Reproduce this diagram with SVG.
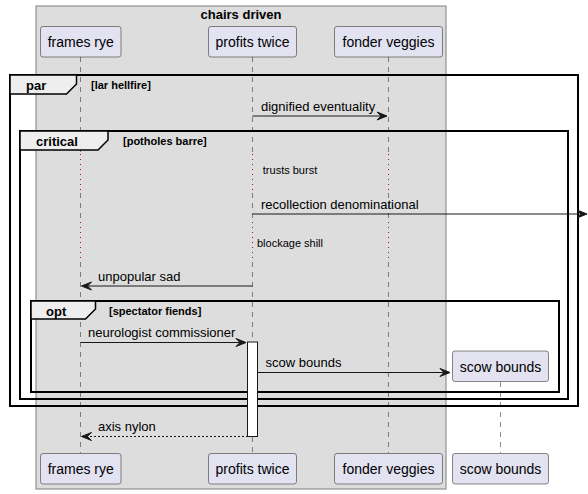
<svg xmlns="http://www.w3.org/2000/svg" width="588" height="494" viewBox="0 0 588 494">
<defs>
<style>
text{font-family:"Liberation Sans",Arial,sans-serif;fill:#000}
.pt{font-size:14px;text-anchor:middle}
.msg{font-size:13px}
.dl{font-size:11px;text-anchor:middle}
.fl{font-size:13px;font-weight:bold}
.fc{font-size:11px;font-weight:bold}
.part{fill:#E2E2F0;stroke:#181818;stroke-width:0.5}
.life{stroke:#181818;stroke-width:0.5;stroke-dasharray:5,5;fill:none}
.dot{stroke:#C00040;stroke-width:1;stroke-dasharray:1,4;fill:none}
.frame{fill:none;stroke:#000;stroke-width:2}
.tab{fill:#EEEEEE;stroke:#000;stroke-width:1.5}
.ln{stroke:#181818;stroke-width:1;fill:none}
.dash{stroke:#181818;stroke-width:1;stroke-dasharray:2,2;fill:none}
.ah{fill:#181818;stroke:#181818;stroke-width:1}
</style>
</defs>
<rect width="588" height="494" fill="#FFFFFF"/>
<g id="box-chairs-driven">
<rect x="36" y="6" width="410" height="483" fill="#DDDDDD" stroke="#7F7F7F" stroke-width="1"/>
<text x="241" y="19" class="fl" text-anchor="middle">chairs driven</text>
</g>
<g id="lifelines">
<path class="life" d="M80.5,57V153M80.5,193V221M80.5,262V453"/>
<path class="life" d="M252.5,57V153M252.5,193V221M252.5,262V342"/>
<path class="life" d="M252.5,437V453"/>
<path class="life" d="M388.5,57V153M388.5,193V221M388.5,262V453"/>
<path class="life" d="M500.5,382V453"/>
<path class="dot" d="M80.5,154V193M80.5,222V262M252.5,154V193M252.5,222V262M388.5,154V193M388.5,222V262"/>
</g>
<g id="frame-par">
<rect class="frame" x="10" y="75" width="568" height="331"/>
<polygon class="tab" points="10,75 76.5,75 76.5,84 66.5,94 10,94"/>
<text x="26" y="90" class="fl">par</text>
<text x="91" y="89" class="fc">[lar hellfire]</text>
</g>
<g id="frame-critical">
<rect class="frame" x="20" y="131" width="548" height="268"/>
<polygon class="tab" points="20,131 108,131 108,140 98,150 20,150"/>
<text x="36" y="146" class="fl">critical</text>
<text x="123" y="145" class="fc">[potholes barre]</text>
</g>
<g id="frame-opt">
<rect class="frame" x="31" y="301" width="528" height="91"/>
<polygon class="tab" points="31,301 95.5,301 95.5,309 85.5,319 31,319"/>
<text x="46" y="316" class="fl">opt</text>
<text x="109" y="315" class="fc">[spectator fiends]</text>
</g>
<g id="delays">
<text x="290" y="174" class="dl">trusts burst</text>
<text x="290" y="247" class="dl">blockage shill</text>
</g>
<g id="p-frames-rye">
<rect class="part" x="40.5" y="26.5" width="80.5" height="30.5" rx="2.5"/>
<text x="80.75" y="47" class="pt">frames rye</text>
<rect class="part" x="40.5" y="453.5" width="80.5" height="30.5" rx="2.5"/>
<text x="80.75" y="474" class="pt">frames rye</text>
</g>
<g id="p-profits-twice">
<rect class="part" x="208.5" y="26.5" width="88" height="30.5" rx="2.5"/>
<text x="252.5" y="47" class="pt">profits twice</text>
<rect class="part" x="208.5" y="453.5" width="88" height="30.5" rx="2.5"/>
<text x="252.5" y="474" class="pt">profits twice</text>
</g>
<g id="p-fonder-veggies">
<rect class="part" x="334.5" y="26.5" width="108" height="30.5" rx="2.5"/>
<text x="388.5" y="47" class="pt">fonder veggies</text>
<rect class="part" x="334.5" y="453.5" width="108" height="30.5" rx="2.5"/>
<text x="388.5" y="474" class="pt">fonder veggies</text>
</g>
<g id="p-scow-bounds">
<rect class="part" x="452.5" y="351" width="96" height="30.5" rx="2.5"/>
<text x="500.5" y="371.5" class="pt">scow bounds</text>
<rect class="part" x="452.5" y="453.5" width="96" height="30.5" rx="2.5"/>
<text x="500.5" y="474" class="pt">scow bounds</text>
</g>
<g id="activation">
<rect x="247.5" y="342" width="10" height="94.5" fill="#FFFFFF" stroke="#181818" stroke-width="1"/>
</g>
<g id="connectors">
<line class="ln" x1="252.5" y1="116" x2="386" y2="116"/>
<polygon class="ah" points="377,112 387,116 377,120 381,116"/>
<text x="261" y="111" class="msg">dignified eventuality</text>
<line class="ln" x1="252.5" y1="214" x2="586" y2="214"/>
<polygon class="ah" points="577,210 587,214 577,218 581,214"/>
<text x="261" y="209" class="msg">recollection denominational</text>
<line class="ln" x1="82" y1="286" x2="252.5" y2="286"/>
<polygon class="ah" points="91.5,282 81.5,286 91.5,290 87.5,286"/>
<text x="98" y="281" class="msg">unpopular sad</text>
<line class="ln" x1="80.5" y1="342.5" x2="245" y2="342.5"/>
<polygon class="ah" points="236,338.5 246,342.5 236,346.5 240,342.5"/>
<text x="88" y="337" class="msg">neurologist commissioner</text>
<line class="ln" x1="257.5" y1="372.5" x2="449" y2="372.5"/>
<polygon class="ah" points="440,368.5 450,372.5 440,376.5 444,372.5"/>
<text x="265.5" y="367" class="msg">scow bounds</text>
<line class="dash" x1="82" y1="436.5" x2="247.5" y2="436.5"/>
<polygon class="ah" points="91.5,432.5 81.5,436.5 91.5,440.5 87.5,436.5"/>
<text x="98" y="431" class="msg">axis nylon</text>
</g>
</svg>
